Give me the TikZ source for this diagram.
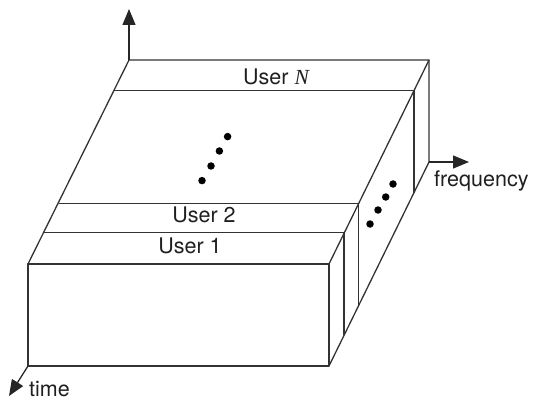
\documentclass[tikz,border=0pt]{standalone}
\usepackage{fontspec}
\setmainfont{TeX Gyre Heros}
\newfontfamily\nserif{Liberation Serif}
\usetikzlibrary{arrows.meta}
\begin{document}
\begin{tikzpicture}[x=1pt,y=-1pt,
  edge/.style={line width=1.3pt,draw=black!80,line join=round},
  axis/.style={line width=1.3pt,draw=black!85,-{Triangle[length=16pt,width=13pt]}},
  lbl/.style={font=\fontsize{21.5}{24}\selectfont,text=black!88,inner sep=0pt},
  dot/.style={circle,fill=black,inner sep=0pt,minimum size=7.5pt}]
\useasboundingbox (0,0) rectangle (534,403);
% corners
\coordinate (FTL) at (28,264);
\coordinate (FTR) at (329,264);
\coordinate (FBL) at (28,366);
\coordinate (FBR) at (329,366);
\coordinate (BTL) at (129,60);
\coordinate (BTR) at (429,60);
\coordinate (BBR) at (429,162);
% slice lines
\coordinate (NL) at (113.9,90.6);  \coordinate (NR) at (414,90.6);
\coordinate (TwoL) at (58.6,203.4); \coordinate (TwoR) at (358.4,203.4);
\coordinate (OneL) at (44.3,232.4); \coordinate (OneR) at (344,232.4);
\coordinate (NB) at (414,192.6);
\coordinate (TwoB) at (358.4,305.4);
\coordinate (OneB) at (344,335.4);
% box
\draw[edge] (FTL) rectangle (FBR);
\draw[edge] (FTL) -- (BTL) -- (BTR) -- (FTR);
\draw[edge] (FBR) -- (BBR) -- (BTR);
\draw[edge] (NL) -- (NR) -- (NB);
\draw[edge] (TwoL) -- (TwoR) -- (TwoB);
\draw[edge] (OneL) -- (OneR) -- (OneB);
% axes
\coordinate (up) at (129,9);
\coordinate (fr) at (469,162);
\coordinate (tm) at (9,396);
\draw[axis] (BTL) -- (up);
\draw[axis] (BBR) -- (fr);
\draw[axis] (FBL) -- (tm);
% labels
\node[lbl] (userN) at (276,77) {User {\nserif\itshape N}};
\node[lbl] (user2) at (204,215) {User 2};
\node[lbl] (user1) at (190,245.5) {User 1};
\node[lbl,anchor=west] (freq) at (434,181) {frequency};
\node[lbl,anchor=base west] (time) at (29,396.5) {time};
% dots
\node[dot] (d1) at (202,180.6) {};
\node[dot] (d2) at (211,166) {};
\node[dot] (d3) at (219.4,151) {};
\node[dot] (d4) at (227.6,136.6) {};
\node[dot] (e1) at (370,224) {};
\node[dot] (e2) at (378,210) {};
\node[dot] (e3) at (385.7,197) {};
\node[dot] (e4) at (393,184) {};
\end{tikzpicture}
\end{document}
